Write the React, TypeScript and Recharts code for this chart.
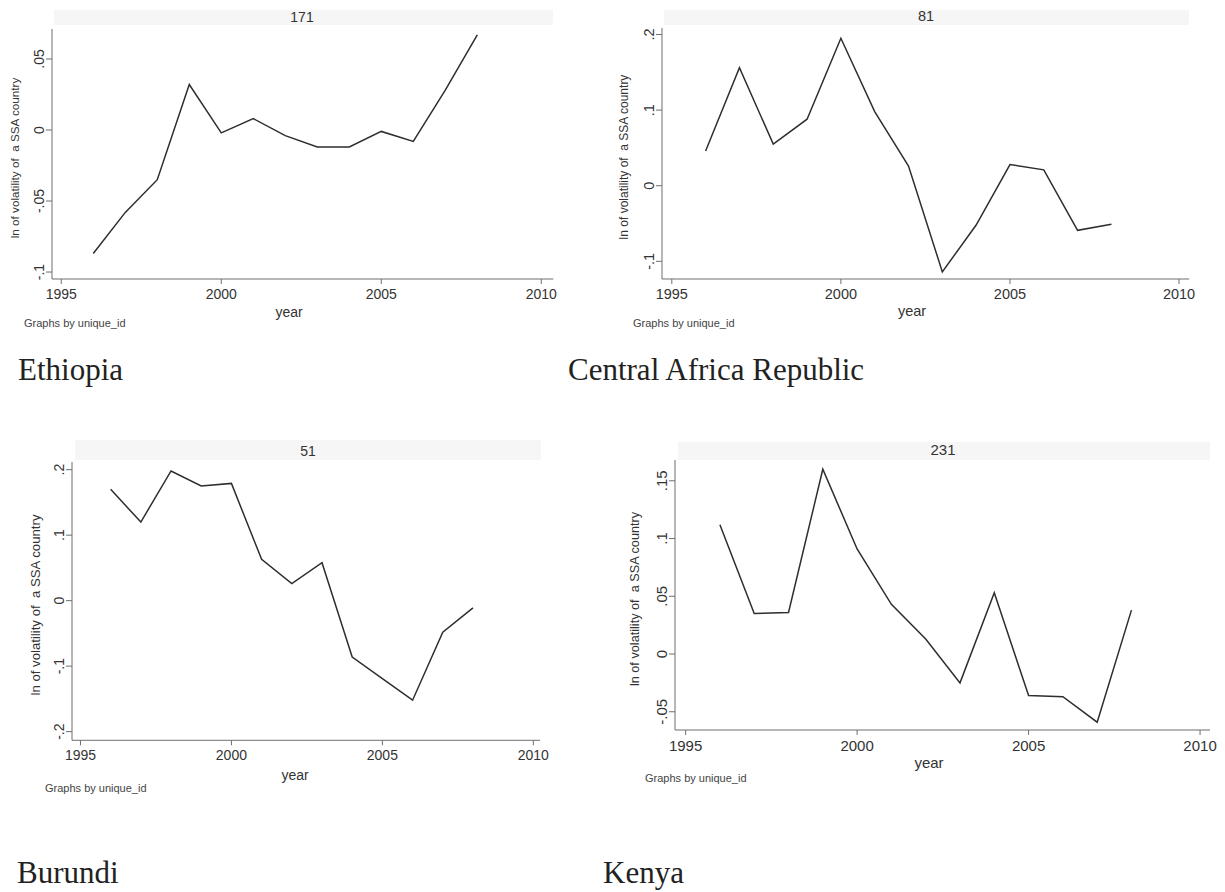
import React from "react";
import { LineChart, Line, XAxis, YAxis } from "recharts";

const years = [1996, 1997, 1998, 1999, 2000, 2001, 2002, 2003, 2004, 2005, 2006, 2007, 2008];
const ethiopia = [-0.087, -0.058, -0.035, 0.032, -0.002, 0.008, -0.004, -0.012, -0.012, -0.001, -0.008, 0.028, 0.067];
const car = [0.046, 0.156, 0.055, 0.088, 0.195, 0.098, 0.026, -0.114, -0.052, 0.028, 0.021, -0.059, -0.051];
const burundi = [0.17, 0.12, 0.198, 0.175, 0.179, 0.063, 0.026, 0.058, -0.086, -0.119, -0.152, -0.048, -0.011];
const kenya = [0.112, 0.035, 0.036, 0.16, 0.091, 0.043, 0.013, -0.025, 0.053, -0.036, -0.037, -0.059, 0.038];

const xTicks = [1995, 2000, 2005, 2010];
const ethiopiaYTicks = [-0.1, -0.05, 0, 0.05];
const carYTicks = [-0.1, 0, 0.1, 0.2];
const burundiYTicks = [-0.2, -0.1, 0, 0.1, 0.2];
const kenyaYTicks = [-0.05, 0, 0.05, 0.1, 0.15];

const panelIds = ["171", "81", "51", "231"];
const countryNames = ["Ethiopia", "Central Africa Republic", "Burundi", "Kenya"];
const yTitle = "ln of volatility of  a SSA country";
const xTitle = "year";
const byNote = "Graphs by unique_id";

const SANS = '"Liberation Sans", Arial, sans-serif';
const SERIF = '"Liberation Serif", "Times New Roman", serif';
const INK = "#333";

const fmtY = (v: number) => (v === 0 ? "0" : String(v).replace("0.", "."));

type PanelCfg = {
  values: number[];
  yTicks: number[];
  id: string;
  x0: number; x1: number; y0: number; y1: number;
  xDomain: [number, number];
  yDomain: [number, number];
  fs: number;
  band: { x0: number; x1: number; y0: number; y1: number };
  titleX: number; titleY: number;
  yearX: number; yearY: number;
  noteX: number; noteY: number;
  yTitleX: number; yTitleY: number; yTitleFs: number;
};

function Panel({ c }: { c: PanelCfg }) {
  const padL = 45, padT = 5, padR = 10, padB = 30;
  const data = years.map((y, i) => ({ year: y, v: c.values[i] }));
  const w = c.x1 - c.x0 + padL + padR;
  const h = c.y1 - c.y0 + padT + padB;
  const fs = c.fs;
  return (
    <>
      <div style={{ position: "absolute", left: c.band.x0, top: c.band.y0, width: c.band.x1 - c.band.x0, height: c.band.y1 - c.band.y0, background: "#f6f6f6" }} />
      <div style={{ position: "absolute", left: c.titleX - 50, width: 100, top: c.titleY - fs * 0.6, textAlign: "center", fontFamily: SANS, fontSize: fs, lineHeight: `${fs * 1.2}px`, color: INK }}>{c.id}</div>
      <div style={{ position: "absolute", left: c.x0 - padL, top: c.y0 - padT }}>
        <LineChart width={w} height={h} data={data} margin={{ top: padT, right: padR, bottom: 0, left: 0 }}>
          <XAxis
            dataKey="year"
            type="number"
            domain={c.xDomain}
            allowDataOverflow
            ticks={xTicks}
            height={padB}
            tickSize={5}
            tickMargin={5}
            stroke="#6e6e6e"
            tick={(p: any) => (
              <text x={p.x} y={p.y} dy="0.71em" textAnchor="middle" fontFamily={SANS} fontSize={fs} fill={INK}>{p.payload.value}</text>
            )}
          />
          <YAxis
            type="number"
            domain={c.yDomain}
            allowDataOverflow
            ticks={c.yTicks}
            width={padL}
            tickSize={6}
            tickMargin={2}
            stroke="#6e6e6e"
            tick={(p: any) => (
              <g transform={`translate(${p.x},${p.y})`}>
                <text transform="rotate(-90)" textAnchor="middle" fontFamily={SANS} fontSize={fs} fill={INK}>{fmtY(p.payload.value)}</text>
              </g>
            )}
          />
          <Line dataKey="v" type="linear" stroke="#2e2e2e" strokeWidth={1.5} dot={false} isAnimationActive={false} />
        </LineChart>
      </div>
      <div style={{ position: "absolute", left: c.yearX - 50, width: 100, top: c.yearY - fs * 0.6, textAlign: "center", fontFamily: SANS, fontSize: fs, lineHeight: `${fs * 1.2}px`, color: INK }}>{xTitle}</div>
      <div style={{ position: "absolute", left: c.noteX, top: c.noteY - 7, fontFamily: SANS, fontSize: 11, lineHeight: "14px", color: "#444", whiteSpace: "pre" }}>{byNote}</div>
      <div style={{ position: "absolute", left: c.yTitleX - 150, top: c.yTitleY - 8, width: 300, height: 16, lineHeight: "16px", textAlign: "center", transform: "rotate(-90deg)", fontFamily: SANS, fontSize: c.yTitleFs, color: INK, whiteSpace: "pre" }}>{yTitle}</div>
    </>
  );
}

const panels: PanelCfg[] = [
  {
    values: ethiopia, yTicks: ethiopiaYTicks, id: panelIds[0],
    x0: 51.7, x1: 553, y0: 29, y1: 279,
    xDomain: [1994.71, 2010.375], yDomain: [-0.1049, 0.0711], fs: 14,
    band: { x0: 54, x1: 553, y0: 10, y1: 25 }, titleX: 302, titleY: 17,
    yearX: 289, yearY: 312, noteX: 24, noteY: 323, yTitleX: 15, yTitleY: 158, yTitleFs: 11.7,
  },
  {
    values: car, yTicks: carYTicks, id: panelIds[1],
    x0: 661.8, x1: 1189, y0: 28, y1: 279,
    xDomain: [1994.71, 2010.3], yDomain: [-0.1234, 0.2086], fs: 14.5,
    band: { x0: 664, x1: 1189, y0: 10, y1: 25 }, titleX: 926, titleY: 17,
    yearX: 912, yearY: 312, noteX: 633, noteY: 323, yTitleX: 624, yTitleY: 157, yTitleFs: 12,
  },
  {
    values: burundi, yTicks: burundiYTicks, id: panelIds[2],
    x0: 72, x1: 540, y0: 461.7, y1: 740,
    xDomain: [1994.72, 2010.22], yDomain: [-0.2132, 0.2117], fs: 14,
    band: { x0: 75, x1: 541, y0: 440, y1: 460 }, titleX: 308, titleY: 451,
    yearX: 295, yearY: 775, noteX: 45, noteY: 788, yTitleX: 36, yTitleY: 605, yTitleFs: 13.2,
  },
  {
    values: kenya, yTicks: kenyaYTicks, id: panelIds[3],
    x0: 675, x1: 1210, y0: 460, y1: 730,
    xDomain: [1994.69, 2010.29], yDomain: [-0.0658, 0.168], fs: 15,
    band: { x0: 678, x1: 1210, y0: 442, y1: 460 }, titleX: 943, titleY: 450,
    yearX: 929, yearY: 763, noteX: 645, noteY: 778, yTitleX: 635, yTitleY: 599, yTitleFs: 12.7,
  },
];

const countryPos = [
  { x: 18, y: 354 },
  { x: 568, y: 354 },
  { x: 17, y: 857 },
  { x: 603, y: 857 },
];

export default function App() {
  return (
    <div style={{ position: "absolute", left: 0, top: 0, width: 1225, height: 892, background: "#fff", overflow: "hidden" }}>
      {panels.map((c, i) => (
        <Panel key={i} c={c} />
      ))}
      {countryNames.map((n, i) => (
        <div key={n} style={{ position: "absolute", left: countryPos[i].x, top: countryPos[i].y, fontFamily: SERIF, fontSize: 31, lineHeight: "31px", color: "#222", whiteSpace: "pre" }}>{n}</div>
      ))}
    </div>
  );
}
